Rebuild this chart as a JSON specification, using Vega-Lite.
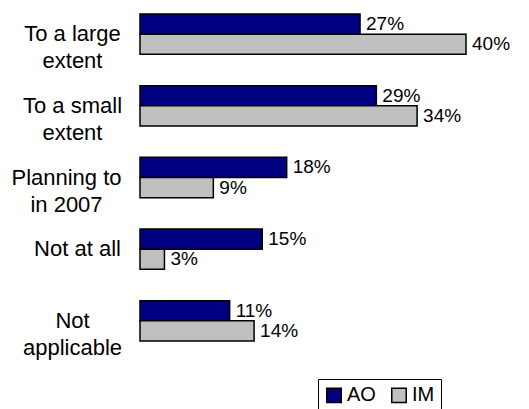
{
  "$schema": "https://vega.github.io/schema/vega-lite/v6.json",
  "autosize": "none",
  "width": 326,
  "height": 355,
  "padding": {"left": 140, "top": 0, "right": 63, "bottom": 54},
  "background": "white",
  "config": {"view": {"stroke": null}, "font": "Liberation Sans"},
  "data": {
    "values": [
      {"category": "To a large extent", "series": "AO", "value": 0.27},
      {"category": "To a large extent", "series": "IM", "value": 0.40},
      {"category": "To a small extent", "series": "AO", "value": 0.29},
      {"category": "To a small extent", "series": "IM", "value": 0.34},
      {"category": "Planning to in 2007", "series": "AO", "value": 0.18},
      {"category": "Planning to in 2007", "series": "IM", "value": 0.09},
      {"category": "Not at all", "series": "AO", "value": 0.15},
      {"category": "Not at all", "series": "IM", "value": 0.03},
      {"category": "Not applicable", "series": "AO", "value": 0.11},
      {"category": "Not applicable", "series": "IM", "value": 0.14}
    ]
  },
  "encoding": {
    "y": {
      "field": "category",
      "type": "nominal",
      "sort": null,
      "scale": {"paddingInner": 0.4375, "paddingOuter": 0.196},
      "axis": {
        "title": null,
        "domain": false,
        "ticks": false,
        "tickSize": 0,
        "labelFont": "Liberation Sans",
        "labelFontSize": 22,
        "labelColor": "black",
        "labelAlign": "center",
        "labelBaseline": "middle",
        "labelLineHeight": 27,
        "labelLimit": 200,
        "labelPadding": {
          "condition": [
            {"test": "datum.value === 'Planning to in 2007'", "value": 74},
            {"test": "datum.value === 'Not at all'", "value": 63}
          ],
          "value": 68
        },
        "labelExpr": "split(replace(replace(replace(replace(datum.value, 'large ', 'large|'), 'small ', 'small|'), 'to in', 'to|in'), 'Not applicable', 'Not|applicable'), '|')"
      }
    },
    "yOffset": {
      "field": "series",
      "type": "nominal",
      "scale": {"paddingInner": 0, "paddingOuter": 0}
    },
    "x": {
      "field": "value",
      "type": "quantitative",
      "scale": {"domain": [0, 0.4], "nice": false},
      "axis": null
    }
  },
  "layer": [
    {
      "mark": {"type": "bar", "stroke": "black", "strokeWidth": 1.5},
      "encoding": {
        "color": {
          "field": "series",
          "type": "nominal",
          "scale": {"domain": ["AO", "IM"], "range": ["#000080", "#C0C0C0"]},
          "legend": {
            "title": null,
            "orient": "none",
            "legendX": 178,
            "legendY": 379,
            "direction": "horizontal",
            "strokeColor": "black",
            "padding": 6,
            "symbolType": "square",
            "symbolSize": 210,
            "symbolStrokeColor": "black",
            "symbolStrokeWidth": 1.5,
            "symbolOpacity": 1,
            "labelFont": "Liberation Sans",
            "labelFontSize": 20,
            "labelColor": "black",
            "labelOffset": 3,
            "columnPadding": 12
          }
        }
      }
    },
    {
      "mark": {"type": "text", "align": "left", "baseline": "middle", "dx": 6, "fontSize": 19, "font": "Liberation Sans", "color": "black"},
      "encoding": {
        "text": {"field": "value", "type": "quantitative", "format": ".0%"},
        "detail": {"field": "series", "type": "nominal"}
      }
    }
  ]
}
